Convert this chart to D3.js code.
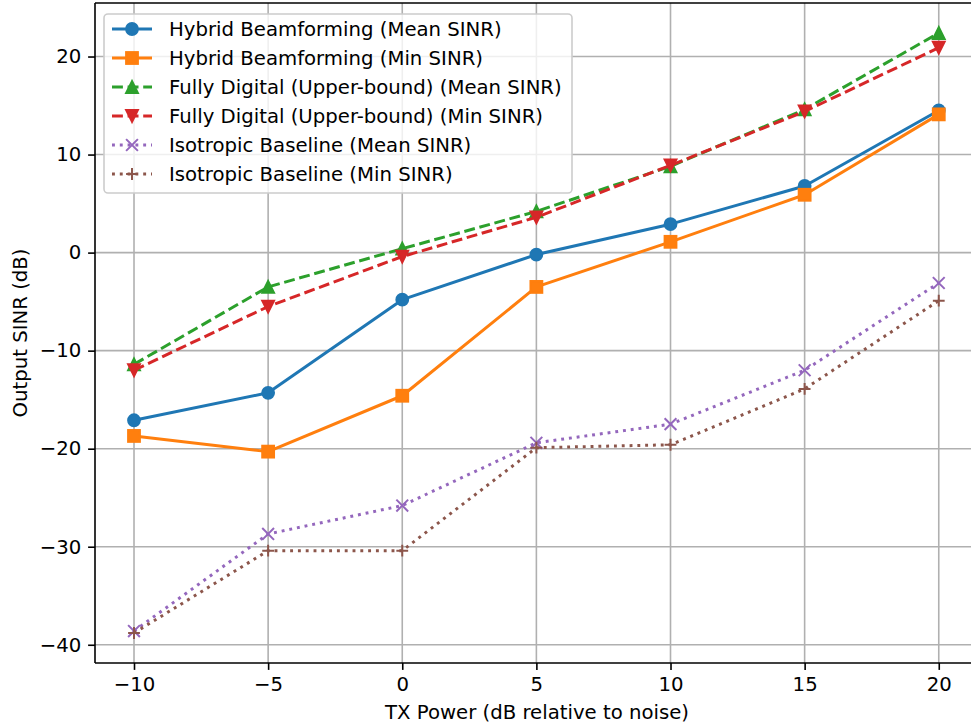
<!DOCTYPE html>
<html>
<head>
<meta charset="utf-8">
<script src="https://cdn.jsdelivr.net/npm/d3@7"></script>
<style>
  body { margin: 0; background: #fff; }
  text { font-family: "DejaVu Sans", sans-serif; }
</style>
</head>
<body>
<svg id="chart" width="971" height="725"></svg>
<script>
// tx power steps (dB relative to noise)
const txPower = [-10, -5, 0, 5, 10, 15, 20];

// output SINR (dB)
const hybridMean = [-17.1, -14.3, -4.8, -0.2, 2.9, 6.8, 14.5];
const hybridMin = [-18.7, -20.3, -14.6, -3.5, 1.1, 5.9, 14.1];
const digitalMean = [-11.4, -3.5, 0.4, 4.2, 8.8, 14.6, 22.4];
const digitalMin = [-12.0, -5.5, -0.4, 3.6, 8.9, 14.4, 20.9];
const isoMean = [-38.6, -28.7, -25.8, -19.4, -17.5, -12.0, -3.1];
const isoMin = [-38.8, -30.4, -30.4, -19.9, -19.6, -13.9, -4.9];

const xTicks = [-10, -5, 0, 5, 10, 15, 20];
const yTicks = [-40, -30, -20, -10, 0, 10, 20];

const seriesNames = [
  'Hybrid Beamforming (Mean SINR)',
  'Hybrid Beamforming (Min SINR)',
  'Fully Digital (Upper-bound) (Mean SINR)',
  'Fully Digital (Upper-bound) (Min SINR)',
  'Isotropic Baseline (Mean SINR)',
  'Isotropic Baseline (Min SINR)'
];

const series = [
  { name: seriesNames[0], values: hybridMean, color: '#1f77b4', dash: null, marker: 'circle' },
  { name: seriesNames[1], values: hybridMin, color: '#ff7f0e', dash: null, marker: 'square' },
  { name: seriesNames[2], values: digitalMean, color: '#2ca02c', dash: '10.9,4.7', marker: 'up' },
  { name: seriesNames[3], values: digitalMin, color: '#d62728', dash: '10.9,4.7', marker: 'down' },
  { name: seriesNames[4], values: isoMean, color: '#9467bd', dash: '2.9,4.9', marker: 'x' },
  { name: seriesNames[5], values: isoMin, color: '#8c564b', dash: '2.9,4.9', marker: 'plus' }
];

const svg = d3.select('#chart');
const plotL = 95, plotR = 979, plotT = 3, plotB = 663;

const x = d3.scaleLinear().domain([-11.454, 21.5]).range([plotL, plotR]);
const y = d3.scaleLinear().domain([-41.86, 25.46]).range([plotB, plotT]);

svg.append('defs').append('clipPath').attr('id', 'plotclip')
  .append('rect')
  .attr('x', plotL).attr('y', plotT)
  .attr('width', plotR - plotL).attr('height', plotB - plotT);

// grid
const grid = svg.append('g');
grid.selectAll('.gx').data(xTicks).join('line')
  .attr('x1', d => x(d)).attr('x2', d => x(d))
  .attr('y1', plotT).attr('y2', plotB)
  .attr('stroke', '#b0b0b0').attr('stroke-width', 1.6);
grid.selectAll('.gy').data(yTicks).join('line')
  .attr('x1', plotL).attr('x2', plotR)
  .attr('y1', d => y(d)).attr('y2', d => y(d))
  .attr('stroke', '#b0b0b0').attr('stroke-width', 1.6);

// marker drawing
function drawMarker(g, type, color) {
  const s = 11.8, h = s / 2;
  if (type === 'circle') {
    g.append('circle').attr('r', h).attr('fill', color).attr('stroke', color).attr('stroke-width', 2);
  } else if (type === 'square') {
    g.append('rect').attr('x', -h).attr('y', -h).attr('width', s).attr('height', s)
      .attr('fill', color).attr('stroke', color).attr('stroke-width', 2);
  } else if (type === 'up') {
    g.append('path').attr('d', `M0,${-h}L${-h},${h}L${h},${h}Z`)
      .attr('fill', color).attr('stroke', color).attr('stroke-width', 2);
  } else if (type === 'down') {
    g.append('path').attr('d', `M0,${h}L${-h},${-h}L${h},${-h}Z`)
      .attr('fill', color).attr('stroke', color).attr('stroke-width', 2);
  } else if (type === 'x') {
    g.append('path').attr('d', `M${-h},${-h}L${h},${h}M${-h},${h}L${h},${-h}`)
      .attr('fill', 'none').attr('stroke', color).attr('stroke-width', 2);
  } else if (type === 'plus') {
    g.append('path').attr('d', `M${-h},0L${h},0M0,${-h}L0,${h}`)
      .attr('fill', 'none').attr('stroke', color).attr('stroke-width', 2);
  }
}

const line = d3.line().x(d => x(d[0])).y(d => y(d[1]));
const plot = svg.append('g').attr('clip-path', 'url(#plotclip)');

series.forEach(s => {
  const pts = txPower.map((t, i) => [t, s.values[i]]);
  plot.append('path')
    .attr('d', line(pts))
    .attr('fill', 'none')
    .attr('stroke', s.color)
    .attr('stroke-width', 3)
    .attr('stroke-dasharray', s.dash)
    .attr('stroke-linejoin', 'round');
  pts.forEach(p => {
    const g = plot.append('g').attr('transform', `translate(${x(p[0])},${y(p[1])})`);
    drawMarker(g, s.marker, s.color);
  });
});

// axes
const fmt = d => d < 0 ? '\u2212' + Math.abs(d) : String(d);
const xAxis = svg.append('g').attr('transform', `translate(0,${plotB})`)
  .call(d3.axisBottom(x).tickValues(xTicks).tickFormat(fmt).tickSize(6.9).tickPadding(6.9));
const yAxis = svg.append('g').attr('transform', `translate(${plotL},0)`)
  .call(d3.axisLeft(y).tickValues(yTicks).tickFormat(fmt).tickSize(6.9).tickPadding(6.9));
[xAxis, yAxis].forEach(a => {
  a.select('.domain').remove();
  a.selectAll('line').attr('stroke', '#000').attr('stroke-width', 1.6);
  a.selectAll('text').attr('font-size', 19.7).attr('fill', '#000')
    .attr('font-family', '"DejaVu Sans", sans-serif');
});

// frame
svg.append('line').attr('x1', plotL).attr('x2', plotL).attr('y1', plotT).attr('y2', plotB)
  .attr('stroke', '#000').attr('stroke-width', 1.6);
svg.append('line').attr('x1', plotL).attr('x2', plotR).attr('y1', plotB).attr('y2', plotB)
  .attr('stroke', '#000').attr('stroke-width', 1.6);
svg.append('line').attr('x1', plotL).attr('x2', plotR).attr('y1', plotT).attr('y2', plotT)
  .attr('stroke', '#000').attr('stroke-width', 1.6);

// axis labels
svg.append('text')
  .attr('x', (plotL + plotR) / 2).attr('y', 719)
  .attr('text-anchor', 'middle').attr('font-size', 19.7)
  .text('TX Power (dB relative to noise)');
svg.append('text')
  .attr('transform', `translate(27,${(plotT + plotB) / 2}) rotate(-90)`)
  .attr('text-anchor', 'middle').attr('font-size', 19.7)
  .text('Output SINR (dB)');

// legend
const legend = svg.append('g');
legend.append('rect')
  .attr('x', 104).attr('y', 14).attr('width', 468).attr('height', 179).attr('rx', 4)
  .attr('fill', '#fff').attr('fill-opacity', 0.8)
  .attr('stroke', '#cccccc').attr('stroke-width', 1.6);
series.forEach((s, i) => {
  const cy = 29 + i * 29;
  const g = legend.append('g');
  g.append('line').attr('x1', 112).attr('x2', 152).attr('y1', cy).attr('y2', cy)
    .attr('stroke', s.color).attr('stroke-width', 3).attr('stroke-dasharray', s.dash);
  const m = g.append('g').attr('transform', `translate(132,${cy})`);
  drawMarker(m, s.marker, s.color);
  g.append('text').attr('x', 169).attr('y', cy).attr('dy', '0.36em')
    .attr('font-size', 19.7).attr('fill', '#000').text(s.name);
});
</script>
</body>
</html>
